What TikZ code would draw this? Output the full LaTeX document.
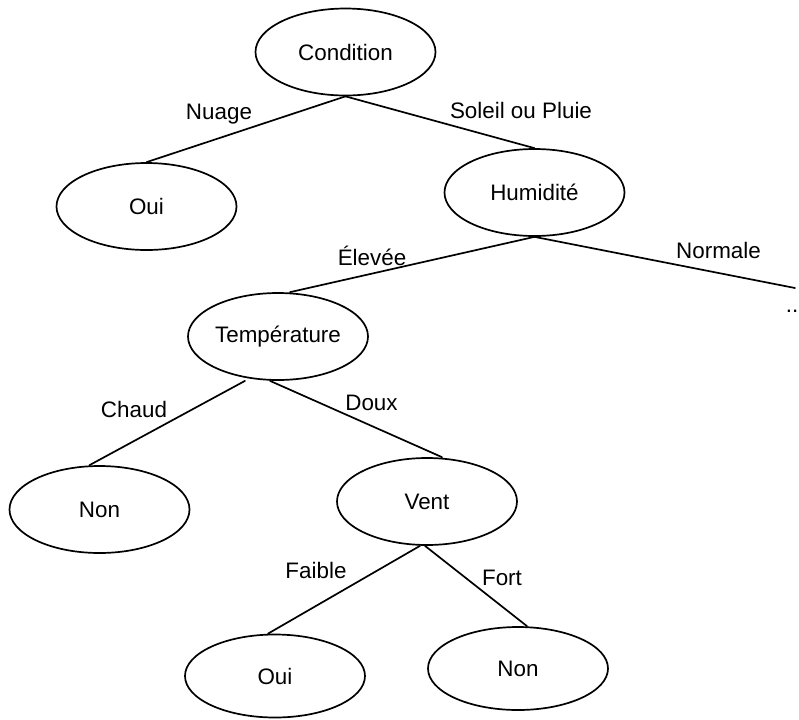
\documentclass[tikz,border=0pt]{standalone}
\usepackage{fontspec}
\setmainfont{Liberation Sans}
\usetikzlibrary{shapes.geometric}
\begin{document}
\begin{tikzpicture}[x=.5pt, y=-.5pt, font=\fontsize{11.2}{13}\selectfont, line width=.85pt, line join=round, line cap=round,
		noeud/.style={draw, ellipse, inner sep=0pt, minimum width=90pt, minimum height=43.5pt},
		etiq/.style={anchor=base, inner sep=0pt}]
		\useasboundingbox (0,0) rectangle (799,719);
		% les noeuds
		\node[noeud] (cond) at (345.5,52) {Condition};
		\node[noeud] (oui1) at (146.5,206.5) {Oui};
		\node[noeud] (hum) at (534.5,192.5) {Humidité};
		\node[noeud] (temp) at (278,336.5) {Température};
		\node[noeud] (non1) at (99.5,509.5) {Non};
		\node[noeud] (vent) at (427,501.5) {Vent};
		\node[noeud, minimum height=41.5pt] (oui2) at (275,676) {Oui};
		\node[noeud, minimum height=41.5pt] (non2) at (518,668.5) {Non};
		\coordinate (fin) at (795,288);
		\node[anchor=west, inner sep=0pt] (suite) at (785,311) {..};
		% les branches
		\draw (cond.south)--(oui1.north);
		\draw (cond.south)--(hum.north);
		\draw (hum.south)--([xshift=6pt]temp.north);
		\draw (hum.south)--(fin);
		\draw ([xshift=-16.5pt]temp.south)--([xshift=-5pt]non1.north);
		\draw ([xshift=-4pt]temp.south)--([xshift=7.5pt]vent.north);
		\draw ([xshift=-3.5pt]vent.south)--([xshift=-3.5pt]oui2.north);
		\draw ([xshift=-1pt]vent.south)--([xshift=4.5pt]non2.north);
		% les etiquettes
		\node[etiq] (nuage) at (219,119) {Nuage};
		\node[etiq] (soleil) at (521,118) {Soleil ou Pluie};
		\node[etiq] (elevee) at (372,265) {Élevée};
		\node[etiq] (normale) at (718.5,258) {Normale};
		\node[etiq] (chaud) at (134,417) {Chaud};
		\node[etiq] (doux) at (371.5,410) {Doux};
		\node[etiq] (faible) at (316,578) {Faible};
		\node[etiq] (fort) at (502,585) {Fort};
	\end{tikzpicture}
\end{document}
